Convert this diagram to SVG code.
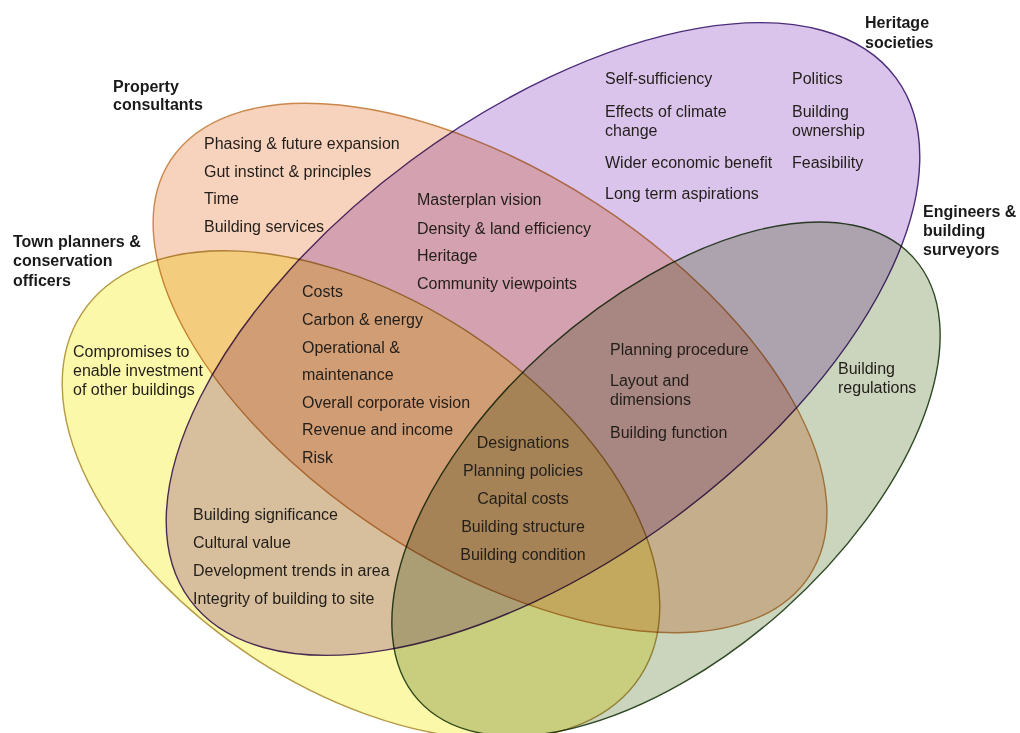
<svg xmlns="http://www.w3.org/2000/svg" width="1020" height="733" viewBox="0 0 1020 733">
<style>
.set{mix-blend-mode:multiply;stroke-width:1.4}
.t{font-family:"Liberation Sans",Arial,sans-serif;font-size:16px;fill:#221e1a}
.b{font-family:"Liberation Sans",Arial,sans-serif;font-size:16px;font-weight:bold;fill:#1a1a1a}
.c{text-anchor:middle}
</style>
<rect width="1020" height="733" fill="#ffffff"/>
<g id="town-planners">
<ellipse class="set" cx="361" cy="495" rx="333" ry="195" transform="rotate(33 361 495)" fill="#fcf8aa" stroke="#b59a45"/>
<text class="b" x="13" y="247">Town planners &amp;</text>
<text class="b" x="13" y="266">conservation</text>
<text class="b" x="13" y="286">officers</text>
</g>
<g id="property-consultants">
<ellipse class="set" cx="490" cy="368" rx="381" ry="196" transform="rotate(33 490 368)" fill="#f7d2bd" stroke="#c9874a"/>
<text class="b" x="113" y="92">Property</text>
<text class="b" x="113" y="110">consultants</text>
</g>
<g id="heritage-societies">
<ellipse class="set" cx="543" cy="339" rx="439" ry="222" transform="rotate(-36.5 543 339)" fill="#dac4ec" stroke="#4b2d7a"/>
<text class="b" x="865" y="28">Heritage</text>
<text class="b" x="865" y="48">societies</text>
</g>
<g id="engineers-surveyors">
<ellipse class="set" cx="666" cy="479" rx="332" ry="176" transform="rotate(-41.7 666 479)" fill="#cbd4bd" stroke="#2f4a25"/>
<text class="b" x="923" y="217">Engineers &amp;</text>
<text class="b" x="923" y="236">building</text>
<text class="b" x="923" y="255">surveyors</text>
</g>
<g id="items">
<text class="t" x="204" y="149">Phasing &amp; future expansion</text>
<text class="t" x="204" y="177">Gut instinct &amp; principles</text>
<text class="t" x="204" y="204">Time</text>
<text class="t" x="204" y="232">Building services</text>
<text class="t" x="417" y="205">Masterplan vision</text>
<text class="t" x="417" y="234">Density &amp; land efficiency</text>
<text class="t" x="417" y="261">Heritage</text>
<text class="t" x="417" y="289">Community viewpoints</text>
<text class="t" x="605" y="84">Self-sufficiency</text>
<text class="t" x="605" y="117">Effects of climate</text>
<text class="t" x="605" y="136">change</text>
<text class="t" x="605" y="168">Wider economic benefit</text>
<text class="t" x="605" y="199">Long term aspirations</text>
<text class="t" x="792" y="84">Politics</text>
<text class="t" x="792" y="117">Building</text>
<text class="t" x="792" y="136">ownership</text>
<text class="t" x="792" y="168">Feasibility</text>
<text class="t" x="73" y="357">Compromises to</text>
<text class="t" x="73" y="376">enable investment</text>
<text class="t" x="73" y="395">of other buildings</text>
<text class="t" x="302" y="297">Costs</text>
<text class="t" x="302" y="325">Carbon &amp; energy</text>
<text class="t" x="302" y="353">Operational &amp;</text>
<text class="t" x="302" y="380">maintenance</text>
<text class="t" x="302" y="408">Overall corporate vision</text>
<text class="t" x="302" y="435">Revenue and income</text>
<text class="t" x="302" y="463">Risk</text>
<text class="t" x="610" y="355">Planning procedure</text>
<text class="t" x="610" y="386">Layout and</text>
<text class="t" x="610" y="405">dimensions</text>
<text class="t" x="610" y="438">Building function</text>
<text class="t" x="838" y="374">Building</text>
<text class="t" x="838" y="393">regulations</text>
<text class="t c" x="523" y="448">Designations</text>
<text class="t c" x="523" y="476">Planning policies</text>
<text class="t c" x="523" y="504">Capital costs</text>
<text class="t c" x="523" y="532">Building structure</text>
<text class="t c" x="523" y="560">Building condition</text>
<text class="t" x="193" y="520">Building significance</text>
<text class="t" x="193" y="548">Cultural value</text>
<text class="t" x="193" y="576">Development trends in area</text>
<text class="t" x="193" y="604">Integrity of building to site</text>
</g>
</svg>
